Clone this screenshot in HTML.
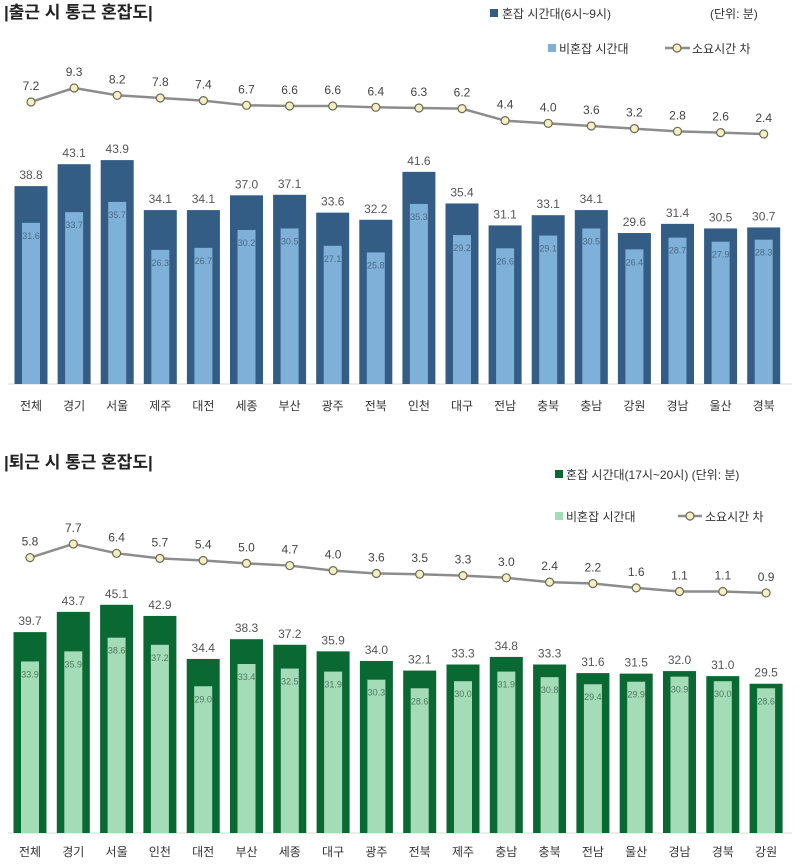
<!DOCTYPE html>
<html><head><meta charset="utf-8">
<style>
body{margin:0;background:#fff;width:800px;height:862px;overflow:hidden;font-family:"Liberation Sans","Noto Sans CJK KR",sans-serif;}
svg text{font-family:"Liberation Sans","Noto Sans CJK KR",sans-serif;}
</style></head>
<body>
<svg id="chart" width="800" height="862" viewBox="0 0 800 862">
  <g>
    <text x="4" y="18" font-size="17" font-weight="bold" fill="#222">|출근 시 통근 혼잡도|</text>
    <rect x="490" y="9" width="8" height="8" fill="#335d85"/>
    <text x="502" y="18" font-size="12" fill="#333">혼잡 시간대(6시~9시)</text>
    <text x="710" y="18" font-size="12" fill="#333">(단위: 분)</text>
    <rect x="548" y="44" width="8" height="8" fill="#7fb0d8"/>
    <text x="559" y="53" font-size="12" fill="#333">비혼잡 시간대</text>
    <line x1="665" y1="48" x2="690" y2="48" stroke="#8c8c8c" stroke-width="2.5"/>
    <circle cx="677" cy="48" r="4" fill="#f4efc4" stroke="#6b6a50" stroke-width="1.2"/>
    <text x="692" y="53" font-size="12" fill="#333">소요시간 차</text>
  </g>
  <g>
    <text x="4" y="468" font-size="17" font-weight="bold" fill="#222">|퇴근 시 통근 혼잡도|</text>
    <rect x="555" y="470" width="8" height="8" fill="#0a6833"/>
    <text x="566" y="479" font-size="12" fill="#333">혼잡 시간대(17시~20시) (단위: 분)</text>
    <rect x="555" y="512" width="8" height="8" fill="#a5dcb8"/>
    <text x="566" y="521" font-size="12" fill="#333">비혼잡 시간대</text>
    <line x1="678" y1="516" x2="702" y2="516" stroke="#8c8c8c" stroke-width="2.5"/>
    <circle cx="690" cy="516" r="4" fill="#f4efc4" stroke="#6b6a50" stroke-width="1.2"/>
    <text x="705" y="521" font-size="12" fill="#333">소요시간 차</text>
  </g>
</svg>
<script>
const topCategories=["전체","경기","서울","제주","대전","세종","부산","광주","전북","인천","대구","전남","충북","충남","강원","경남","울산","경북"];
const topCongested=[38.8,43.1,43.9,34.1,34.1,37.0,37.1,33.6,32.2,41.6,35.4,31.1,33.1,34.1,29.6,31.4,30.5,30.7];
const topNonCongested=[31.6,33.7,35.7,26.3,26.7,30.2,30.5,27.1,25.8,35.3,29.2,26.6,29.1,30.5,26.4,28.7,27.9,28.3];
const topDiff=[7.2,9.3,8.2,7.8,7.4,6.7,6.6,6.6,6.4,6.3,6.2,4.4,4.0,3.6,3.2,2.8,2.6,2.4];
const botCategories=["전체","경기","서울","인천","대전","부산","세종","대구","광주","전북","제주","충남","충북","전남","울산","경남","경북","강원"];
const botCongested=[39.7,43.7,45.1,42.9,34.4,38.3,37.2,35.9,34.0,32.1,33.3,34.8,33.3,31.6,31.5,32.0,31.0,29.5];
const botNonCongested=[33.9,35.9,38.6,37.2,29.0,33.4,32.5,31.9,30.3,28.6,30.0,31.9,30.8,29.4,29.9,30.9,30.0,28.6];
const botDiff=[5.8,7.7,6.4,5.7,5.4,5.0,4.7,4.0,3.6,3.5,3.3,3.0,2.4,2.2,1.6,1.1,1.1,0.9];

const NS="http://www.w3.org/2000/svg";
const svg=document.getElementById('chart');
function mk(tag,attrs,parent){const e=document.createElementNS(NS,tag);for(const k in attrs)e.setAttribute(k,attrs[k]);parent.appendChild(e);return e;}

function drawChart(prefix,cats,cong,non,diff,cfg){
  const g=mk('g',{},svg);
  
  
  const x=i=>cfg.x0+i*cfg.step;
  const yb=v=>cfg.base-v*cfg.barScale;
  const yl=v=>cfg.lineZero-v*cfg.lineScale;
  const ax=mk('line',{x1:8,x2:792,y1:cfg.base,y2:cfg.base,stroke:'#d9d9d9','stroke-width':1},g);
  
  
  cats.forEach((c,i)=>{
    const cx=x(i);
    const b=mk('rect',{x:cx-16.5,y:yb(cong[i]),width:33,height:cong[i]*cfg.barScale,fill:cfg.dark},g);
    
    
    const l=mk('rect',{x:cx-9,y:yb(non[i]),width:18,height:non[i]*cfg.barScale,fill:cfg.light},g);
    
    
    const t1=mk('text',{x:cx,y:yb(cong[i])-7,'font-size':12,fill:'#555','text-anchor':'middle'},g);
    t1.textContent=cong[i].toFixed(1);
    
    
    const t2=mk('text',{x:cx,y:yb(non[i])+16,'font-size':9,fill:cfg.innerText,'text-anchor':'middle'},g);
    t2.textContent=non[i].toFixed(1);
    
    
    const t3=mk('text',{x:cx,y:cfg.catY,'font-size':12,fill:'#333','text-anchor':'middle'},g);
    t3.textContent=c;
    
    
  });
  const pts=diff.map((v,i)=>x(i)+','+yl(v)).join(' ');
  const pl=mk('polyline',{points:pts,fill:'none',stroke:'#8c8c8c','stroke-width':2.5},g);
  
  
  diff.forEach((v,i)=>{
    const c=mk('circle',{cx:x(i),cy:yl(v),r:4,fill:'#f4efc4',stroke:'#6b6a50','stroke-width':1.2},g);
    
    
    const t=mk('text',{x:x(i),y:yl(v)-12,'font-size':12,fill:'#444','text-anchor':'middle'},g);
    t.textContent=v.toFixed(1);
    
    
  });
}
drawChart('top',topCategories,topCongested,topNonCongested,topDiff,{x0:31,step:43.1,base:384,barScale:5.1,lineZero:150,lineScale:6.67,catY:410,dark:'#335d85',light:'#7fb0d8',innerText:'#4a6a88'});
drawChart('bottom',botCategories,botCongested,botNonCongested,botDiff,{x0:30,step:43.3,base:833,barScale:5.06,lineZero:599.4,lineScale:7.2,catY:856,dark:'#0a6833',light:'#a5dcb8',innerText:'#4e7a5e'});
</script>
</body></html>
